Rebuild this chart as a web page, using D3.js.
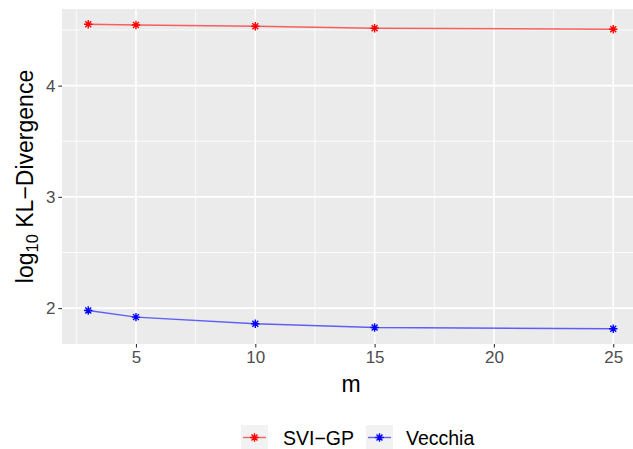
<!DOCTYPE html>
<html>
<head>
<meta charset="utf-8">
<script src="https://cdn.jsdelivr.net/npm/d3@7"></script>
<style>
  html, body { margin: 0; padding: 0; background: #fff; }
  svg { display: block; font-family: "Liberation Sans", Arial, Helvetica, sans-serif; }
</style>
</head>
<body>
<svg id="chart" width="633" height="449"></svg>
<script>
// Neighbour counts m and log10 KL-divergence per method
const mValues = [3, 5, 10, 15, 25];
const sviGP = [4.552, 4.545, 4.534, 4.516, 4.507];
const vecchia = [1.978, 1.919, 1.859, 1.826, 1.814];
const xTicks = [5, 10, 15, 20, 25];
const yTicks = [2, 3, 4];
const seriesNames = ["SVI\u2212GP", "Vecchia"];
const seriesColors = ["#FF0000", "#0000FF"];

const svg = d3.select("#chart");
const panel = { left: 62, top: 9, right: 639.5, bottom: 344 };

const allY = sviGP.concat(vecchia);
const xMin = d3.min(mValues), xMax = d3.max(mValues);
const yMin = d3.min(allY), yMax = d3.max(allY);
const xPad = (xMax - xMin) * 0.05, yPad = (yMax - yMin) * 0.05;

const x = d3.scaleLinear().domain([xMin - xPad, xMax + xPad]).range([panel.left, panel.right]);
const y = d3.scaleLinear().domain([yMin - yPad, yMax + yPad]).range([panel.bottom, panel.top]);

// panel background
svg.append("rect")
  .attr("x", panel.left).attr("y", panel.top)
  .attr("width", panel.right - panel.left).attr("height", panel.bottom - panel.top)
  .attr("fill", "#EBEBEB");

const grid = svg.append("g");
// minor grid lines halfway between major ticks
const xMinor = d3.range(2.5, 26, 5);
const yMinor = [1.5, 2.5, 3.5, 4.5].filter(v => v > y.domain()[0] && v < y.domain()[1]);
grid.selectAll(".xminor").data(xMinor).join("line")
  .attr("x1", d => x(d)).attr("x2", d => x(d))
  .attr("y1", panel.top).attr("y2", panel.bottom)
  .attr("stroke", "#fff").attr("stroke-width", 0.8);
grid.selectAll(".yminor").data(yMinor).join("line")
  .attr("x1", panel.left).attr("x2", panel.right)
  .attr("y1", d => y(d)).attr("y2", d => y(d))
  .attr("stroke", "#fff").attr("stroke-width", 0.8);
grid.selectAll(".xmajor").data(xTicks).join("line")
  .attr("x1", d => x(d)).attr("x2", d => x(d))
  .attr("y1", panel.top).attr("y2", panel.bottom)
  .attr("stroke", "#fff").attr("stroke-width", 1.6);
grid.selectAll(".ymajor").data(yTicks).join("line")
  .attr("x1", panel.left).attr("x2", panel.right)
  .attr("y1", d => y(d)).attr("y2", d => y(d))
  .attr("stroke", "#fff").attr("stroke-width", 1.6);

// axes
const xAxis = svg.append("g")
  .attr("transform", `translate(0,${panel.bottom})`)
  .call(d3.axisBottom(x).tickValues(xTicks).tickSize(3.6).tickPadding(3));
const yAxis = svg.append("g")
  .attr("transform", `translate(${panel.left},0)`)
  .call(d3.axisLeft(y).tickValues(yTicks).tickFormat(d3.format("d")).tickSize(3.6).tickPadding(3));
[xAxis, yAxis].forEach(a => {
  a.select(".domain").remove();
  a.selectAll(".tick line").attr("stroke", "#333333").attr("stroke-width", 1.1);
  a.selectAll(".tick text").attr("fill", "#4D4D4D").style("font-size", "17px")
    .style("font-family", "'Liberation Sans', Arial, sans-serif");
});

// asterisk marker (plus + cross)
function asterisk(r) {
  const d = r * Math.SQRT1_2;
  return `M${-r},0L${r},0M0,${-r}L0,${r}M${-d},${-d}L${d},${d}M${-d},${d}L${d},${-d}`;
}

const series = [sviGP, vecchia];
const line = d3.line().x((d, i) => x(mValues[i])).y(d => y(d));
series.forEach((vals, si) => {
  svg.append("path")
    .datum(vals)
    .attr("d", line)
    .attr("fill", "none")
    .attr("stroke", seriesColors[si])
    .attr("stroke-opacity", 0.6)
    .attr("stroke-width", 1.4);
  svg.append("g").selectAll("path").data(vals).join("path")
    .attr("transform", (d, i) => `translate(${x(mValues[i])},${y(d)})`)
    .attr("d", asterisk(4.2))
    .attr("fill", "none")
    .attr("stroke", seriesColors[si])
    .attr("stroke-width", 1.4);
});

// axis titles
svg.append("text")
  .attr("x", 351).attr("y", 392)
  .attr("text-anchor", "middle")
  .style("font-size", "23px").attr("fill", "#000")
  .text("m");

const yt = svg.append("text")
  .attr("transform", `translate(33,${(panel.top + panel.bottom) / 2}) rotate(-90)`)
  .attr("text-anchor", "middle")
  .style("font-size", "23px").attr("fill", "#000");
yt.append("tspan").text("log");
yt.append("tspan").attr("dy", 4.5).style("font-size", "16.5px").text("10");
yt.append("tspan").attr("dy", -4.5).text(" KL\u2212Divergence");

// legend
const legendItems = [
  { name: seriesNames[0], color: seriesColors[0], kx: 241, tx: 283 },
  { name: seriesNames[1], color: seriesColors[1], kx: 366, tx: 406 }
];
const lg = svg.append("g");
legendItems.forEach(it => {
  const g = lg.append("g").attr("transform", `translate(${it.kx},425)`);
  g.append("rect").attr("width", 27).attr("height", 24).attr("fill", "#F2F2F2");
  g.append("line").attr("x1", 2).attr("x2", 25).attr("y1", 12.5).attr("y2", 12.5)
    .attr("stroke", it.color).attr("stroke-opacity", 0.6).attr("stroke-width", 1.4);
  g.append("path").attr("transform", "translate(13.5,12.5)").attr("d", asterisk(4.2))
    .attr("fill", "none").attr("stroke", it.color).attr("stroke-width", 1.4);
  lg.append("text").attr("x", it.tx).attr("y", 445)
    .style("font-size", "19.5px").attr("fill", "#000").text(it.name);
});
</script>
</body>
</html>
